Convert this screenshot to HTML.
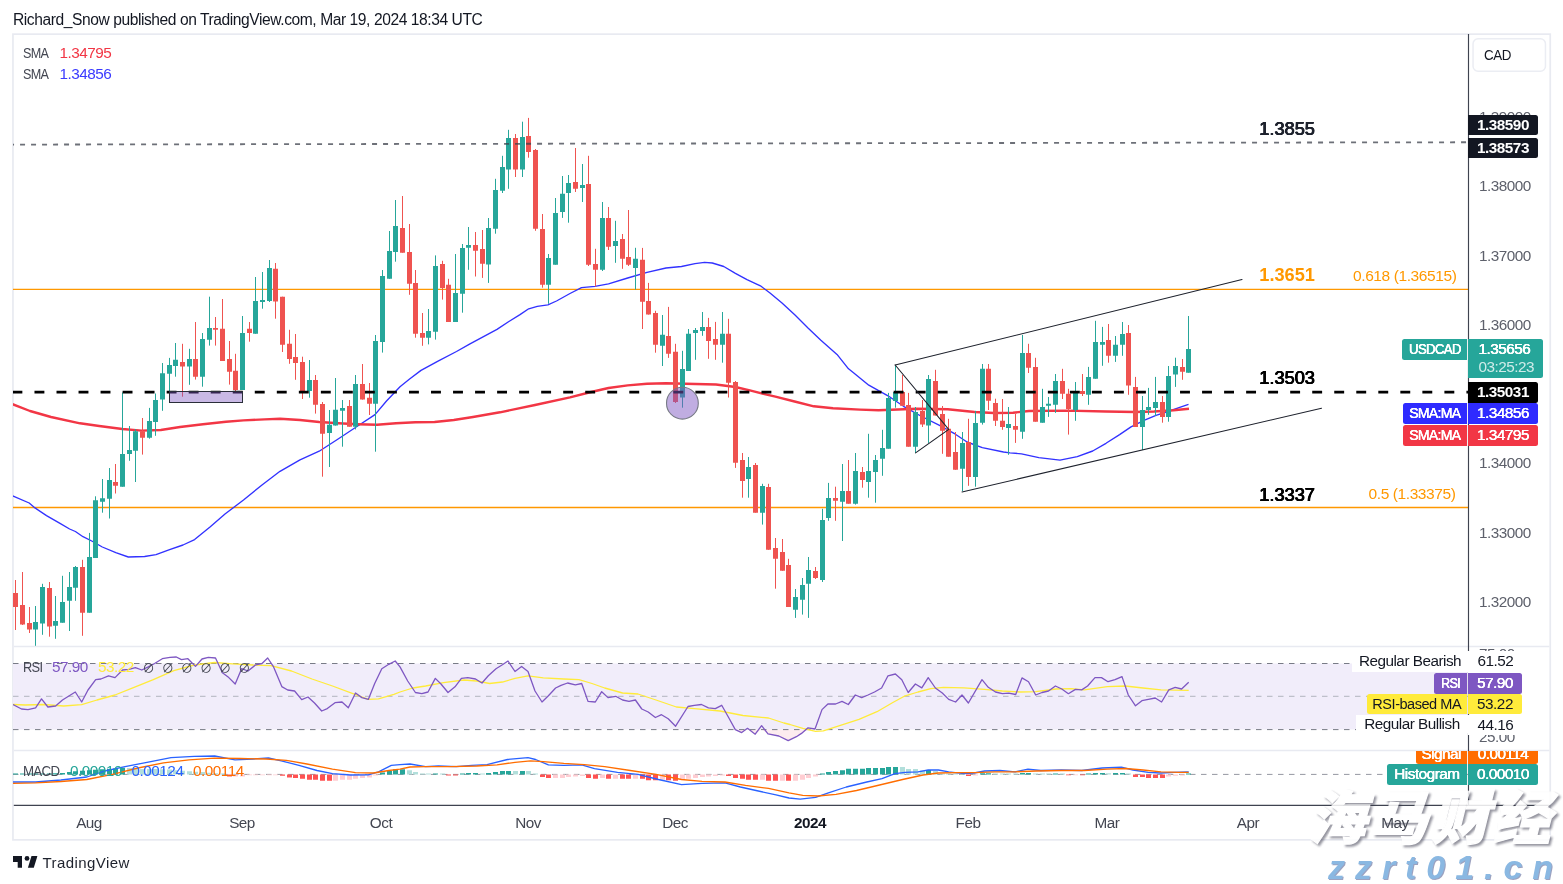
<!DOCTYPE html>
<html><head><meta charset="utf-8"><title>USDCAD chart</title>
<style>
html,body{margin:0;padding:0;background:#fff;}
body{width:1563px;height:884px;position:relative;overflow:hidden;font-family:"Liberation Sans","Noto Sans CJK SC",sans-serif;color:#131722;}
.abs{position:absolute;white-space:nowrap;}
#hdr{left:13px;top:10.6px;font-size:15.6px;line-height:18px;color:#131722;letter-spacing:-0.43px}
.pl{left:1479px;letter-spacing:-0.5px;font-size:15.3px;line-height:16px;color:#5d606b;}
.tl{top:814.6px;letter-spacing:-0.5px;font-size:15.3px;line-height:16px;color:#434651;transform:translateX(-50%);}
.lbl{text-shadow:0.22px 0 0 #fff,-0.22px 0 0 #fff;height:20.4px;line-height:20.4px;letter-spacing:-0.5px;font-size:15.3px;color:#fff;border-radius:2.5px;box-sizing:border-box;text-align:center;}
.lt{border-radius:2.5px 0 0 2.5px;}
.lv{border-radius:0 2.5px 2.5px 0;}
.big{font-size:18.2px;font-weight:bold;line-height:20px;left:1259.3px;letter-spacing:0px;}
.leg{letter-spacing:-0.5px;font-size:15.3px;line-height:16px;color:#434651;}
#cad{left:1484.4px;top:47.1px;letter-spacing:-0.5px;font-size:15.3px;line-height:16px;color:#131722;transform:scaleX(0.875);transform-origin:left;}
#wm1{left:1308px;top:774px;font-size:58px;line-height:80px;font-weight:900;font-style:italic;color:#fff;-webkit-text-stroke:1.2px #fff;filter:drop-shadow(2px 2px 0.9px rgba(50,50,70,0.6));opacity:0.86;font-family:"Noto Sans CJK SC","Liberation Sans",sans-serif;letter-spacing:3.5px;}
#wm2{left:1328px;top:846.8px;font-size:34px;line-height:40px;font-weight:bold;font-style:italic;color:#8ab8e2;letter-spacing:9.95px;text-shadow:1px 1px 0.5px rgba(90,100,150,0.6);}
</style></head><body>
<div id="hdr" class="abs">Richard_Snow published on TradingView.com, Mar 19, 2024 18:34 UTC</div>
<svg class="abs" style="left:0;top:0" width="1563" height="884" viewBox="0 0 1563 884">
<rect x="12.95" y="34.15" width="1537.3" height="805.7" fill="none" stroke="#e8eaf1" stroke-width="1.7"/>
<rect x="1473.05" y="38.75" width="72.4" height="32.4" rx="5" fill="#fff" stroke="#ebedf3" stroke-width="1.5"/>
<line x1="13.8" y1="646.4" x2="1549.4" y2="646.4" stroke="#e8eaf1" stroke-width="1.5"/>
<line x1="13.8" y1="750.4" x2="1549.4" y2="750.4" stroke="#e8eaf1" stroke-width="1.5"/>
</svg>

<div class="abs pl" style="top:108.5px">1.39000</div>
<div class="abs pl" style="top:178.0px">1.38000</div>
<div class="abs pl" style="top:247.5px">1.37000</div>
<div class="abs pl" style="top:317.0px">1.36000</div>
<div class="abs pl" style="top:455.0px">1.34000</div>
<div class="abs pl" style="top:525.0px">1.33000</div>
<div class="abs pl" style="top:594.0px">1.32000</div>
<div class="abs pl" style="top:646.3px">75.00</div>
<div class="abs pl" style="top:728.9px;">25.00</div>

<svg class="abs" style="left:0;top:0" width="1563" height="884" viewBox="0 0 1563 884">
<defs><clipPath id="cp"><rect x="13" y="34" width="1455" height="771"/></clipPath></defs>
<g clip-path="url(#cp)">
<rect x="13" y="663.5" width="1455" height="66" fill="#f1edfa"/>
<polygon points="735.3,729.6 741.7,732.6 747.5,729.6 755.2,734.2 761.6,729.6 768.0,733.9 778.8,736.0 788.2,740.6 796.4,736.7 801.5,733.4 808.0,729.6 810.0,729.6" fill="#fdecef"/>
<line x1="13" y1="663.5" x2="1350" y2="663.5" stroke="#787b86" stroke-width="1" stroke-dasharray="5.5 5.5"/>
<line x1="13" y1="696.3" x2="1468" y2="696.3" stroke="#b2b5be" stroke-width="1" stroke-dasharray="5.5 5.5"/>
<line x1="13" y1="729.6" x2="1468" y2="729.6" stroke="#787b86" stroke-width="1" stroke-dasharray="5.5 5.5"/>
<line x1="13" y1="774.4" x2="1468" y2="774.4" stroke="#9598a1" stroke-width="1" stroke-dasharray="5.5 5.5"/>
<line x1="13" y1="289.4" x2="1468" y2="289.4" stroke="#ff9800" stroke-width="1.3"/>
<line x1="13" y1="507.5" x2="1468" y2="507.5" stroke="#ff9800" stroke-width="1.3"/>
<polyline points="12.0,495.5 13.8,496.3 29.2,503.0 35.0,507.9 46.5,515.6 60.0,523.3 69.6,529.0 75.4,531.5 83.0,536.7 92.7,541.5 102.3,547.0 115.8,552.7 128.3,557.0 144.6,556.5 156.0,554.6 169.6,549.6 183.0,545.0 194.6,539.6 210.0,527.0 225.0,514.0 243.5,500.0 262.0,485.0 280.0,471.3 300.0,459.8 319.2,451.2 338.5,438.7 357.7,426.0 375.0,414.6 386.5,401.0 400.0,386.7 409.6,379.0 421.0,370.4 438.5,360.8 456.5,351.5 470.0,343.8 497.0,329.4 508.5,321.7 520.0,314.6 528.7,308.8 537.3,306.3 547.9,304.8 556.5,301.0 570.0,293.5 581.5,287.7 595.0,286.3 608.5,283.8 627.7,278.0 647.0,272.3 666.0,268.0 681.5,266.5 695.0,263.7 704.6,262.3 712.3,263.0 723.8,266.5 735.4,273.3 747.0,279.6 760.4,285.8 770.0,293.0 782.0,303.0 795.0,315.0 808.0,328.0 820.6,340.0 837.0,354.4 848.5,368.8 853.5,372.7 868.8,385.2 888.0,395.8 903.5,406.3 920.8,416.0 940.0,425.6 955.4,434.2 967.0,442.0 982.3,447.7 1003.5,452.0 1010.0,452.9 1021.5,453.8 1038.8,457.7 1060.0,460.2 1077.3,456.7 1092.7,451.0 1106.0,443.3 1119.6,434.6 1131.0,426.9 1144.6,420.2 1156.0,415.4 1169.6,411.0 1179.0,407.7 1188.5,404.4" fill="none" stroke="#3232ff" stroke-width="1.35" stroke-linejoin="round"/>
<polyline points="12.0,404.0 30.0,411.0 51.0,417.0 80.0,423.3 99.2,426.0 122.3,429.0 141.5,430.6 160.8,430.0 180.0,427.0 203.0,424.2 226.0,421.7 243.5,420.4 264.6,419.4 280.0,418.8 300.0,420.0 319.2,422.0 338.5,423.3 357.7,424.2 377.0,424.8 396.0,423.3 415.4,422.3 434.6,422.0 453.8,420.0 473.0,417.0 500.0,412.3 535.0,405.0 570.0,397.3 589.0,392.5 608.5,388.0 627.7,385.4 647.0,383.8 666.0,383.3 685.4,383.8 716.0,384.5 735.4,387.0 750.8,390.6 770.0,395.4 775.4,396.7 794.6,401.5 813.8,406.3 833.0,408.3 860.0,409.6 878.5,410.2 917.0,408.8 947.7,409.2 974.6,412.0 993.8,413.0 1013.0,412.7 1029.0,411.0 1067.7,410.6 1106.0,411.5 1135.0,412.0 1154.0,411.5 1173.5,410.2 1189.0,408.7" fill="none" stroke="#f23645" stroke-width="2.4" stroke-linejoin="round"/>
<path d="M35.5 606.0V645.8M42.5 583.8V634.8M55.5 596.0V638.8M62.5 575.8V622.7M69.5 572.0V631.0M75.5 566.0V600.8M89.5 532.9V612.7M95.5 496.3V557.9M102.5 479.0V512.7M109.5 468.0V518.5M122.5 392.5V486.7M129.5 426.0V460.8M135.5 429.0V482.0M149.5 407.9V438.7M155.5 393.5V435.8M162.5 363.0V410.8M169.5 357.9V391.5M175.5 343.0V376.7M189.5 348.8V384.8M202.5 333.0V386.7M209.5 296.7V345.6M242.5 316.0V390.0M255.5 277.0V333.8M262.5 272.0V308.7M269.5 260.0V302.0M309.5 360.0V397.7M329.5 410.0V467.0M335.5 378.0V425.6M342.5 400.0V446.7M355.5 375.0V429.4M375.5 335.0V451.7M382.5 270.0V352.6M389.5 231.0V278.8M395.5 200.0V261.7M428.5 309.0V344.4M435.5 255.4V339.6M455.5 254.0V322.0M462.5 244.0V312.7M468.5 227.0V269.8M488.5 218.0V282.9M495.5 178.8V233.7M502.5 155.8V193.0M508.5 129.8V188.8M522.5 121.7V177.0M548.5 254.0V303.8M555.5 198.0V264.7M562.5 176.0V217.9M568.5 175.0V222.7M582.5 164.0V202.0M602.5 202.0V271.0M615.5 220.8V262.8M635.5 247.8V289.6M662.5 315.0V366.0M682.5 350.8V407.7M688.5 329.0V371.0M695.5 328.0V359.8M702.5 312.0V335.8M722.5 312.0V362.7M748.5 457.0V497.7M762.5 483.8V524.6M795.5 589.0V617.9M802.5 578.0V614.6M808.5 557.0V617.9M822.5 508.8V582.0M828.5 482.9V520.8M842.5 464.0V541.0M855.5 453.0V504.6M868.5 433.8V497.7M875.5 455.0V502.7M882.5 429.8V475.8M888.5 392.9V448.7M895.5 366.0V407.7M915.5 407.0V452.9M928.5 375.0V442.9M962.5 432.0V491.0M975.5 410.8V486.7M982.5 364.0V424.6M1008.5 407.0V454.8M1022.5 335.0V438.8M1042.5 388.8V422.7M1048.5 397.0V416.9M1055.5 374.0V412.9M1075.5 382.0V420.8M1088.5 366.9V404.8M1095.5 320.8V378.8M1102.5 326.9V365.8M1115.5 336.0V361.9M1122.5 322.0V355.8M1142.5 396.0V450.0M1148.5 387.9V414.8M1155.5 376.9V416.0M1168.5 366.0V421.7M1175.5 357.7V386.9M1188.5 316.0V372.7" stroke="#26a69a" stroke-width="1" fill="none"/>
<path d="M33.0 622.0h5V629.6h-5zM40.0 587.0h5V623.6h-5zM53.0 621.0h5V625.8h-5zM60.0 602.0h5V622.7h-5zM67.0 587.0h5V600.8h-5zM73.0 567.0h5V587.7h-5zM87.0 557.0h5V612.7h-5zM93.0 500.2h5V557.9h-5zM100.0 498.3h5V501.7h-5zM107.0 480.0h5V498.7h-5zM120.0 454.0h5V486.7h-5zM127.0 450.0h5V454.0h-5zM133.0 431.3h5V450.8h-5zM147.0 421.0h5V437.7h-5zM153.0 400.0h5V422.0h-5zM160.0 373.3h5V399.6h-5zM167.0 365.0h5V373.8h-5zM173.0 359.8h5V366.0h-5zM187.0 359.0h5V366.5h-5zM200.0 339.0h5V376.7h-5zM207.0 327.9h5V339.8h-5zM240.0 333.0h5V390.0h-5zM253.0 301.0h5V333.8h-5zM260.0 300.0h5V302.0h-5zM267.0 267.9h5V301.0h-5zM307.0 380.0h5V391.0h-5zM327.0 424.8h5V432.9h-5zM333.0 409.8h5V425.6h-5zM340.0 407.9h5V410.8h-5zM353.0 384.0h5V426.7h-5zM373.0 341.0h5V403.7h-5zM380.0 276.0h5V342.0h-5zM387.0 251.0h5V278.8h-5zM393.0 226.0h5V252.0h-5zM426.0 331.0h5V337.7h-5zM433.0 266.0h5V331.7h-5zM453.0 292.9h5V322.0h-5zM460.0 248.0h5V293.8h-5zM466.0 245.0h5V247.7h-5zM486.0 228.0h5V264.6h-5zM493.0 190.0h5V228.8h-5zM500.0 167.0h5V190.8h-5zM506.0 138.0h5V169.6h-5zM520.0 137.0h5V169.6h-5zM546.0 257.9h5V284.8h-5zM553.0 213.0h5V264.7h-5zM560.0 193.8h5V212.0h-5zM566.0 183.0h5V192.9h-5zM580.0 185.0h5V187.9h-5zM600.0 217.9h5V269.8h-5zM613.0 241.0h5V246.0h-5zM633.0 258.8h5V267.9h-5zM660.0 334.8h5V345.8h-5zM680.0 369.0h5V397.6h-5zM686.0 333.8h5V371.0h-5zM693.0 330.0h5V332.9h-5zM700.0 327.0h5V331.0h-5zM720.0 333.8h5V344.8h-5zM746.0 467.0h5V479.0h-5zM760.0 486.0h5V512.7h-5zM793.0 597.0h5V609.8h-5zM800.0 585.0h5V599.8h-5zM806.0 570.0h5V583.8h-5zM820.0 520.0h5V580.0h-5zM826.0 497.9h5V517.9h-5zM840.0 491.0h5V501.7h-5zM853.0 471.0h5V503.7h-5zM866.0 471.0h5V482.0h-5zM873.0 460.0h5V472.0h-5zM880.0 448.0h5V458.8h-5zM886.0 398.0h5V448.7h-5zM893.0 392.0h5V401.0h-5zM913.0 412.0h5V446.7h-5zM926.0 379.0h5V425.6h-5zM960.0 442.9h5V468.8h-5zM973.0 423.0h5V477.0h-5zM980.0 368.8h5V422.7h-5zM1006.0 424.0h5V427.9h-5zM1020.0 352.9h5V431.7h-5zM1040.0 407.0h5V422.7h-5zM1046.0 403.8h5V405.8h-5zM1053.0 381.0h5V404.8h-5zM1073.0 391.9h5V410.0h-5zM1086.0 376.9h5V394.8h-5zM1093.0 341.9h5V378.8h-5zM1100.0 341.9h5V344.8h-5zM1113.0 344.8h5V355.8h-5zM1120.0 334.0h5V344.8h-5zM1140.0 410.0h5V426.9h-5zM1146.0 407.0h5V410.0h-5zM1153.0 401.9h5V408.0h-5zM1166.0 376.0h5V416.9h-5zM1173.0 366.0h5V374.6h-5zM1186.0 349.0h5V372.7h-5z" fill="#26a69a"/>
<path d="M15.5 580.0V630.0M22.5 572.0V625.0M29.5 607.0V633.0M49.5 582.0V636.7M82.5 559.8V635.8M115.5 464.0V493.5M142.5 418.0V454.6M182.5 343.8V396.7M195.5 322.0V379.6M215.5 317.0V345.6M222.5 299.0V361.0M229.5 341.0V384.6M235.5 353.8V391.3M249.5 322.0V341.7M275.5 263.0V318.7M282.5 296.7V352.0M289.5 329.8V363.8M295.5 334.0V379.8M302.5 356.7V399.0M315.5 375.0V413.6M322.5 402.0V476.7M349.5 400.0V426.7M362.5 364.0V399.6M369.5 383.0V415.0M402.5 196.0V252.7M409.5 224.0V294.8M415.5 270.0V337.7M422.5 313.0V345.8M442.5 260.8V299.6M448.5 278.8V322.0M475.5 232.0V276.5M482.5 230.0V277.9M515.5 134.0V177.0M528.5 117.9V157.7M535.5 149.0V230.8M542.5 214.0V287.7M575.5 148.0V192.0M588.5 155.8V266.0M595.5 248.8V286.7M608.5 207.0V250.0M622.5 234.0V268.8M628.5 210.0V266.0M642.5 247.9V329.0M648.5 282.9V314.6M655.5 310.8V352.7M668.5 306.9V357.9M675.5 343.8V403.0M708.5 317.9V358.8M715.5 321.9V359.8M728.5 318.8V397.5M735.5 381.0V467.9M742.5 453.0V497.7M755.5 463.0V512.7M768.5 483.8V549.8M775.5 538.0V588.7M782.5 539.0V570.8M788.5 558.8V607.0M815.5 567.0V579.0M835.5 486.7V520.8M848.5 460.0V503.7M862.5 467.0V487.7M902.5 375.0V405.8M908.5 392.9V446.7M922.5 400.0V427.0M935.5 369.8V415.6M942.5 406.0V453.8M948.5 418.8V456.7M955.5 432.0V469.8M968.5 418.8V485.8M988.5 364.0V410.0M995.5 398.7V426.0M1002.5 399.0V429.8M1015.5 414.0V442.9M1028.5 343.8V373.0M1035.5 357.8V421.7M1062.5 368.8V399.0M1068.5 388.8V434.6M1082.5 374.0V396.0M1108.5 324.0V362.7M1128.5 325.0V394.8M1135.5 376.9V426.9M1162.5 396.0V422.7M1182.5 359.0V379.8" stroke="#ef5350" stroke-width="1" fill="none"/>
<path d="M13.0 593.0h5V607.0h-5zM20.0 605.0h5V624.6h-5zM27.0 623.0h5V629.6h-5zM47.0 588.0h5V626.5h-5zM80.0 567.0h5V612.7h-5zM113.0 482.0h5V485.8h-5zM140.0 431.3h5V437.7h-5zM180.0 362.0h5V366.5h-5zM193.0 359.0h5V376.7h-5zM213.0 327.9h5V329.8h-5zM220.0 328.8h5V361.0h-5zM227.0 359.0h5V371.7h-5zM233.0 370.8h5V390.0h-5zM247.0 328.8h5V333.0h-5zM273.0 268.8h5V301.5h-5zM280.0 296.7h5V344.8h-5zM287.0 343.8h5V359.0h-5zM293.0 357.0h5V362.9h-5zM300.0 362.0h5V392.0h-5zM313.0 380.0h5V404.7h-5zM320.0 404.0h5V433.8h-5zM347.0 406.0h5V426.7h-5zM360.0 384.0h5V399.6h-5zM367.0 397.7h5V403.7h-5zM400.0 228.0h5V252.7h-5zM407.0 252.0h5V283.8h-5zM413.0 282.9h5V333.7h-5zM420.0 332.9h5V337.7h-5zM440.0 264.0h5V288.0h-5zM446.0 284.8h5V322.0h-5zM473.0 245.0h5V250.8h-5zM480.0 249.0h5V263.7h-5zM513.0 138.0h5V169.6h-5zM526.0 136.0h5V152.0h-5zM533.0 150.0h5V228.8h-5zM540.0 229.0h5V284.8h-5zM573.0 182.0h5V188.8h-5zM586.0 184.0h5V264.7h-5zM593.0 264.0h5V269.8h-5zM606.0 217.9h5V246.8h-5zM620.0 239.0h5V258.7h-5zM626.0 257.0h5V264.7h-5zM640.0 259.8h5V301.7h-5zM646.0 301.0h5V314.6h-5zM653.0 313.0h5V344.8h-5zM666.0 336.0h5V353.7h-5zM673.0 351.8h5V402.0h-5zM706.0 327.0h5V341.0h-5zM713.0 339.0h5V344.8h-5zM726.0 333.8h5V382.8h-5zM733.0 382.0h5V462.7h-5zM740.0 460.0h5V481.0h-5zM753.0 465.0h5V512.7h-5zM766.0 487.0h5V549.8h-5zM773.0 547.9h5V558.8h-5zM780.0 552.0h5V570.8h-5zM786.0 565.0h5V607.0h-5zM813.0 571.0h5V578.0h-5zM833.0 497.9h5V500.8h-5zM846.0 491.0h5V503.7h-5zM860.0 472.0h5V480.0h-5zM900.0 392.0h5V405.8h-5zM906.0 405.0h5V446.7h-5zM920.0 411.0h5V424.6h-5zM933.0 381.0h5V415.6h-5zM940.0 414.0h5V430.8h-5zM946.0 428.8h5V456.7h-5zM953.0 452.0h5V469.8h-5zM966.0 442.0h5V477.0h-5zM986.0 368.8h5V400.8h-5zM993.0 403.0h5V420.8h-5zM1000.0 420.8h5V427.0h-5zM1013.0 426.0h5V429.8h-5zM1026.0 352.9h5V367.8h-5zM1033.0 367.0h5V421.7h-5zM1060.0 381.0h5V393.8h-5zM1066.0 393.8h5V409.0h-5zM1080.0 391.0h5V394.0h-5zM1106.0 340.0h5V355.8h-5zM1126.0 333.0h5V385.6h-5zM1133.0 386.9h5V426.9h-5zM1160.0 401.9h5V416.9h-5zM1180.0 366.9h5V371.7h-5z" fill="#ef5350"/>
<line x1="9.05" y1="144.6" x2="1468" y2="142.25" stroke="#3c404b" stroke-opacity="0.75" stroke-width="1.8" stroke-dasharray="5 6"/>
<line x1="12.45" y1="392.05" x2="1468" y2="392.05" stroke="#000" stroke-width="2.7" stroke-dasharray="9.9 12.13"/>
<rect x="169.5" y="391.5" width="73" height="11" fill="rgba(126,87,194,0.42)" stroke="#2a2e39" stroke-width="1"/>
<circle cx="682.4" cy="403.2" r="15.9" fill="rgba(126,87,194,0.49)" stroke="#787b86" stroke-width="1.1"/>
<g stroke="#1e222d" stroke-width="1.1" fill="none" stroke-linecap="round">
<line x1="895.2" y1="365" x2="1242" y2="279.5"/>
<line x1="962" y1="492" x2="1321.5" y2="408.2"/>
<polyline points="895.2,365 948.7,429.4 915.6,452.9"/>
</g>
<polyline points="13.0,704.5 25.4,705.0 43.3,704.5 63.7,706.0 81.7,704.7 97.0,700.0 115.0,695.0 132.8,687.9 153.3,679.7 173.8,670.7 194.3,665.0 214.7,662.5 232.6,663.8 253.0,665.0 271.0,665.6 291.5,671.0 312.0,679.0 332.5,686.0 352.9,693.7 368.3,699.4 378.5,698.9 393.9,694.3 400.0,692.0 412.8,688.0 425.6,686.0 443.5,682.7 464.0,680.0 476.8,681.0 489.6,683.5 502.4,682.0 515.0,678.4 528.0,675.8 543.3,677.9 563.8,679.0 579.0,679.7 592.0,683.5 604.7,688.0 622.6,693.0 638.0,694.0 656.0,700.0 676.4,707.0 694.3,708.6 720.0,711.0 743.0,715.5 768.5,718.0 783.9,723.0 790.0,724.5 802.8,728.3 815.6,731.4 823.3,730.8 841.2,725.2 859.0,719.3 877.0,711.7 892.4,702.7 905.2,695.8 918.0,692.0 930.8,688.6 943.6,687.3 964.0,687.9 984.5,689.4 1002.4,691.0 1020.3,692.0 1035.7,691.7 1056.0,689.0 1071.5,688.6 1084.3,689.9 1107.3,686.6 1125.3,686.0 1143.0,688.0 1161.0,689.9 1188.7,690.4" fill="none" stroke="#ffeb3b" stroke-width="1.3" stroke-linejoin="round"/>
<polyline points="13.0,704.5 21.5,709.0 28.0,709.6 35.6,707.8 41.5,698.9 47.9,707.0 55.6,706.0 62.5,700.0 75.3,692.0 81.7,702.0 88.0,690.0 95.7,679.7 100.9,679.0 108.5,675.8 115.0,677.6 122.6,670.0 129.0,669.4 135.4,667.6 141.8,670.0 148.2,666.9 154.6,663.5 162.3,658.7 170.0,657.4 176.3,657.0 181.5,659.7 187.9,658.7 195.5,666.4 202.0,659.0 208.3,657.4 215.5,658.0 222.4,672.8 228.8,677.6 235.2,684.0 241.6,668.7 248.0,671.0 255.7,664.8 262.0,663.5 267.7,658.0 273.6,666.9 281.8,686.6 287.7,690.0 294.6,691.0 301.7,699.6 308.0,697.0 314.5,703.0 321.7,711.0 327.3,708.6 335.0,702.7 342.0,702.0 348.3,707.8 355.5,693.0 361.9,697.6 368.3,699.4 374.7,683.5 381.8,668.7 388.8,664.3 395.2,661.0 400.0,666.9 407.7,681.0 415.4,692.5 421.8,693.7 428.0,692.0 435.3,678.4 441.0,684.0 448.0,692.5 455.0,686.8 461.4,678.4 467.8,677.6 475.5,679.0 482.0,683.0 488.3,675.8 496.0,668.7 502.4,664.8 508.0,661.0 515.0,671.5 521.6,666.4 528.0,671.5 535.0,691.0 542.0,702.0 548.4,695.8 555.6,688.0 561.0,685.3 567.6,683.0 575.3,684.8 581.7,683.5 588.0,701.4 595.3,702.0 601.7,691.7 608.0,697.6 615.7,696.3 622.6,700.0 629.0,701.4 635.4,700.0 641.8,709.0 648.2,712.0 655.4,717.5 661.5,714.7 668.2,718.8 675.6,726.2 688.0,706.5 694.3,705.3 701.5,704.5 708.4,707.8 715.3,708.6 721.7,705.3 728.9,718.0 735.3,729.6 741.7,732.6 747.5,728.3 755.2,734.2 761.6,725.7 768.0,733.9 778.8,736.0 788.2,740.6 796.4,736.7 801.5,733.4 808.0,727.8 815.0,729.0 822.0,709.6 827.9,704.0 835.6,704.0 842.0,701.4 848.3,704.5 855.3,695.0 861.7,697.6 868.0,695.0 874.5,692.0 881.6,688.0 888.0,675.8 895.4,674.0 901.8,679.7 908.2,692.5 915.4,684.0 921.8,687.9 928.2,677.6 935.4,688.0 942.3,693.0 948.7,699.4 955.6,702.0 962.0,695.0 968.4,703.0 982.0,679.7 988.3,687.3 995.5,692.0 1002.4,693.7 1008.8,693.2 1015.7,694.5 1022.0,677.9 1028.5,681.7 1035.7,695.0 1042.0,692.5 1048.5,691.0 1055.4,686.0 1061.8,689.0 1068.4,693.7 1075.4,689.4 1081.7,689.9 1087.6,686.0 1095.0,677.6 1101.5,677.6 1108.0,681.7 1115.0,679.7 1122.0,676.6 1128.3,695.0 1135.5,705.8 1141.9,700.7 1148.3,699.4 1155.2,698.0 1161.6,702.0 1168.8,689.9 1175.2,687.3 1181.6,689.0 1188.7,682.2" fill="none" stroke="#7e57c2" stroke-width="1.3" stroke-linejoin="round"/>
<path d="M13.0 773.6h5v0.8h-5zM20.0 773.6h5v0.8h-5zM27.0 773.6h5v0.8h-5zM33.0 773.6h5v0.8h-5zM40.0 773.6h5v0.8h-5zM47.0 773.6h5v0.8h-5zM53.0 773.3h5v1.1h-5zM60.0 772.9h5v1.5h-5zM67.0 772.0h5v2.4h-5zM73.0 771.2h5v3.2h-5zM80.0 770.8h5v3.6h-5zM87.0 770.3h5v4.1h-5zM93.0 769.7h5v4.7h-5zM100.0 769.3h5v5.1h-5zM107.0 768.9h5v5.5h-5zM113.0 768.4h5v6.0h-5zM120.0 767.8h5v6.6h-5zM380.0 772.4h5v2.0h-5zM387.0 771.1h5v3.3h-5zM393.0 769.2h5v5.2h-5zM400.0 769.2h5v5.2h-5zM433.0 773.6h5v0.8h-5zM460.0 773.6h5v0.8h-5zM466.0 773.1h5v1.3h-5zM473.0 773.1h5v1.3h-5zM486.0 773.1h5v1.3h-5zM493.0 772.1h5v2.3h-5zM500.0 771.1h5v3.3h-5zM506.0 771.1h5v3.3h-5zM520.0 771.1h5v3.3h-5zM820.0 773.6h5v0.8h-5zM826.0 772.1h5v2.3h-5zM833.0 771.1h5v3.3h-5zM840.0 770.2h5v4.2h-5zM846.0 768.8h5v5.6h-5zM853.0 768.8h5v5.6h-5zM860.0 768.8h5v5.6h-5zM866.0 767.9h5v6.5h-5zM873.0 767.9h5v6.5h-5zM880.0 768.0h5v6.4h-5zM886.0 767.0h5v7.4h-5zM893.0 767.0h5v7.4h-5zM926.0 770.1h5v4.3h-5zM980.0 773.2h5v1.2h-5zM986.0 773.2h5v1.2h-5zM1020.0 773.0h5v1.4h-5zM1026.0 773.0h5v1.4h-5zM1053.0 773.6h5v0.8h-5zM1086.0 773.6h5v0.8h-5zM1093.0 773.0h5v1.4h-5zM1100.0 773.0h5v1.4h-5zM1113.0 773.0h5v1.4h-5zM1120.0 773.0h5v1.4h-5zM1186.0 773.6h5v0.8h-5z" fill="#26a69a"/>
<path d="M127.0 768.1h5v6.3h-5zM133.0 768.5h5v5.9h-5zM140.0 768.9h5v5.5h-5zM147.0 769.0h5v5.4h-5zM153.0 769.1h5v5.3h-5zM160.0 769.2h5v5.2h-5zM167.0 769.6h5v4.8h-5zM173.0 770.2h5v4.2h-5zM180.0 770.7h5v3.7h-5zM187.0 771.2h5v3.2h-5zM193.0 771.7h5v2.7h-5zM200.0 772.1h5v2.3h-5zM207.0 772.7h5v1.7h-5zM213.0 773.3h5v1.1h-5zM220.0 773.6h5v0.8h-5zM407.0 770.2h5v4.2h-5zM413.0 772.1h5v2.3h-5zM420.0 773.4h5v1.0h-5zM426.0 773.6h5v0.8h-5zM440.0 773.6h5v0.8h-5zM480.0 773.4h5v1.0h-5zM513.0 771.1h5v3.3h-5zM526.0 771.1h5v3.3h-5zM533.0 773.4h5v1.0h-5zM900.0 767.0h5v7.4h-5zM906.0 769.1h5v5.3h-5zM913.0 769.1h5v5.3h-5zM920.0 770.5h5v3.9h-5zM933.0 771.1h5v3.3h-5zM940.0 773.6h5v0.8h-5zM946.0 773.6h5v0.8h-5zM953.0 773.6h5v0.8h-5zM960.0 773.6h5v0.8h-5zM993.0 773.6h5v0.8h-5zM1000.0 773.6h5v0.8h-5zM1006.0 773.6h5v0.8h-5zM1013.0 773.6h5v0.8h-5zM1033.0 773.4h5v1.0h-5zM1040.0 773.6h5v0.8h-5zM1046.0 773.6h5v0.8h-5zM1060.0 773.6h5v0.8h-5zM1106.0 773.2h5v1.2h-5zM1126.0 773.6h5v0.8h-5z" fill="#b2dfdb"/>
<path d="M233.0 774.4h5v2.1h-5zM240.0 774.4h5v2.0h-5zM247.0 774.4h5v0.9h-5zM253.0 774.4h5v0.8h-5zM260.0 774.4h5v0.8h-5zM267.0 774.4h5v0.8h-5zM273.0 774.4h5v0.8h-5zM333.0 774.4h5v6.3h-5zM340.0 774.4h5v5.4h-5zM347.0 774.4h5v5.4h-5zM353.0 774.4h5v4.4h-5zM360.0 774.4h5v3.5h-5zM367.0 774.4h5v3.0h-5zM373.0 774.4h5v1.0h-5zM553.0 774.4h5v3.5h-5zM560.0 774.4h5v3.5h-5zM566.0 774.4h5v2.5h-5zM573.0 774.4h5v2.1h-5zM580.0 774.4h5v1.5h-5zM600.0 774.4h5v3.5h-5zM613.0 774.4h5v4.4h-5zM633.0 774.4h5v4.4h-5zM660.0 774.4h5v5.4h-5zM680.0 774.4h5v5.4h-5zM686.0 774.4h5v4.4h-5zM693.0 774.4h5v3.5h-5zM700.0 774.4h5v2.5h-5zM706.0 774.4h5v2.1h-5zM713.0 774.4h5v1.5h-5zM720.0 774.4h5v1.2h-5zM760.0 774.4h5v5.4h-5zM780.0 774.4h5v6.3h-5zM793.0 774.4h5v6.3h-5zM800.0 774.4h5v5.4h-5zM806.0 774.4h5v3.5h-5zM813.0 774.4h5v2.1h-5zM973.0 774.4h5v1.2h-5zM1073.0 774.4h5v0.8h-5zM1166.0 774.4h5v2.2h-5zM1173.0 774.4h5v1.4h-5zM1180.0 774.4h5v1.0h-5z" fill="#ffcdd2"/>
<path d="M227.0 774.4h5v2.1h-5zM280.0 774.4h5v1.4h-5zM287.0 774.4h5v3.0h-5zM293.0 774.4h5v3.6h-5zM300.0 774.4h5v4.4h-5zM307.0 774.4h5v5.4h-5zM313.0 774.4h5v5.4h-5zM320.0 774.4h5v6.3h-5zM327.0 774.4h5v6.3h-5zM446.0 774.4h5v1.2h-5zM453.0 774.4h5v1.2h-5zM540.0 774.4h5v2.5h-5zM546.0 774.4h5v3.5h-5zM586.0 774.4h5v3.5h-5zM593.0 774.4h5v4.4h-5zM606.0 774.4h5v4.4h-5zM620.0 774.4h5v4.4h-5zM626.0 774.4h5v4.4h-5zM640.0 774.4h5v4.4h-5zM646.0 774.4h5v5.8h-5zM653.0 774.4h5v5.8h-5zM666.0 774.4h5v5.8h-5zM673.0 774.4h5v6.3h-5zM726.0 774.4h5v1.5h-5zM733.0 774.4h5v3.5h-5zM740.0 774.4h5v4.4h-5zM746.0 774.4h5v5.4h-5zM753.0 774.4h5v5.4h-5zM766.0 774.4h5v6.3h-5zM773.0 774.4h5v6.3h-5zM786.0 774.4h5v6.3h-5zM966.0 774.4h5v1.6h-5zM1066.0 774.4h5v0.8h-5zM1080.0 774.4h5v0.8h-5zM1133.0 774.4h5v2.7h-5zM1140.0 774.4h5v2.7h-5zM1146.0 774.4h5v3.7h-5zM1153.0 774.4h5v3.7h-5zM1160.0 774.4h5v3.7h-5z" fill="#ff5252"/>
<polyline points="13.0,782.0 35.6,782.0 61.0,780.0 86.8,777.0 104.7,771.0 125.0,766.7 150.8,761.6 171.0,757.7 194.3,756.4 214.7,756.0 235.0,759.8 253.0,759.0 268.5,758.0 281.3,760.8 299.0,765.4 317.0,770.5 332.5,773.6 350.4,775.0 368.3,774.9 378.5,771.8 391.3,765.4 400.0,764.6 410.0,764.0 425.6,766.7 438.4,766.0 456.3,766.7 471.7,765.4 487.0,764.6 507.5,759.5 528.0,757.7 535.6,759.5 548.4,764.9 563.8,765.4 581.7,764.9 594.5,768.7 617.5,772.3 638.0,774.4 658.5,779.5 681.5,784.6 702.0,783.3 725.0,782.8 740.4,787.0 758.3,791.0 776.0,794.8 789.0,798.0 800.2,799.2 815.6,797.4 828.4,792.8 846.3,787.0 866.8,782.0 882.0,778.7 895.0,773.6 905.2,772.3 918.0,771.8 928.2,770.0 938.4,770.0 948.7,771.8 964.0,773.6 974.3,773.0 984.5,771.0 999.9,770.5 1015.2,771.8 1028.0,769.2 1040.8,770.5 1061.3,770.0 1081.7,770.5 1102.2,768.0 1121.4,767.2 1133.0,770.0 1148.3,772.3 1161.0,773.0 1173.9,772.3 1188.7,771.8" fill="none" stroke="#2962ff" stroke-width="1.3" stroke-linejoin="round"/>
<polyline points="13.0,783.3 35.6,782.8 61.0,781.5 86.8,779.5 112.4,774.4 138.0,768.0 163.5,762.8 189.0,759.8 214.7,758.2 240.3,758.5 266.0,759.0 286.4,760.3 306.9,764.0 332.5,769.2 355.5,772.6 373.4,773.0 388.8,770.5 400.0,769.2 410.0,767.0 425.6,766.7 451.0,766.7 476.8,766.0 497.0,764.9 515.0,762.3 530.5,760.8 543.3,761.6 563.8,763.4 584.3,764.6 604.7,766.7 630.3,770.5 656.0,774.4 681.5,779.5 702.0,781.3 725.0,782.0 745.5,785.4 768.5,788.4 789.0,792.8 802.8,795.3 818.0,796.0 836.0,794.3 856.5,790.5 879.6,785.0 902.6,779.5 923.0,775.0 938.4,773.0 956.3,772.6 974.3,772.6 994.7,771.8 1015.2,771.8 1035.7,771.0 1061.3,770.5 1084.3,770.5 1107.3,769.2 1125.3,768.5 1143.0,770.0 1161.0,771.8 1179.0,772.3 1188.7,772.3" fill="none" stroke="#ff6d00" stroke-width="1.3" stroke-linejoin="round"/>
</g>
</svg>

<svg class="abs" style="left:0;top:0" width="1563" height="884" viewBox="0 0 1563 884">
<line x1="1468.5" y1="34" x2="1468.5" y2="806" stroke="#3f4350" stroke-width="1.15"/>
<line x1="13.8" y1="805.4" x2="1549.4" y2="805.4" stroke="#3f4350" stroke-width="1.15"/>
</svg>
<div id="cad" class="abs">CAD</div>

<div class="abs leg" style="left:23.3px;top:45.3px;letter-spacing:-0.8px;transform:scaleX(0.825);transform-origin:left">SMA</div><div class="abs leg" style="left:59.5px;top:45.3px;color:#f23645">1.34795</div>
<div class="abs leg" style="left:23.3px;top:65.9px;letter-spacing:-0.8px;transform:scaleX(0.825);transform-origin:left">SMA</div><div class="abs leg" style="left:59.5px;top:65.9px;color:#3a3aff">1.34856</div>

<div class="abs leg" style="left:22.8px;top:659px;letter-spacing:-0.8px;transform:scaleX(0.837);transform-origin:left">RSI</div>
<div class="abs leg" style="left:52px;top:659px;color:#7e57c2">57.90</div>
<div class="abs leg" style="left:98px;top:659px;color:#ffeb3b">53.22</div>
<div class="abs leg" style="left:142.5px;top:659px;color:#434651;letter-spacing:6.95px;font-size:12.2px;margin-top:1.7px">∅∅∅∅∅∅</div>
<div class="abs leg" style="left:22.8px;top:763px;letter-spacing:-0.8px;transform:scaleX(0.868);transform-origin:left">MACD</div>
<div class="abs leg" style="left:70px;top:763px;color:#26a69a">0.00010</div>
<div class="abs leg" style="left:131.6px;top:763px;color:#2962ff">0.00124</div>
<div class="abs leg" style="left:193px;top:763px;color:#ff6d00">0.00114</div>

<div class="abs big" style="top:118.65px;color:#1e222d;font-weight:normal;text-shadow:0.45px 0 0 #1e222d,-0.45px 0 0 #1e222d,0 0.3px 0 #1e222d,0 -0.3px 0 #1e222d">1.3855</div>
<div class="abs big" style="top:264.5px;color:#ff9800">1.3651</div>
<div class="abs big" style="top:367.5px;color:#000;font-weight:normal;text-shadow:0.45px 0 0 #000,-0.45px 0 0 #000,0 0.3px 0 #000,0 -0.3px 0 #000">1.3503</div>
<div class="abs big" style="top:484.5px;color:#000;font-weight:normal;text-shadow:0.45px 0 0 #000,-0.45px 0 0 #000,0 0.3px 0 #000,0 -0.3px 0 #000">1.3337</div>
<div class="abs" style="left:1353px;top:267.5px;font-size:15.5px;letter-spacing:-0.4px;line-height:16px;color:#ff9800">0.618 (1.36515)</div>
<div class="abs" style="left:1368.5px;top:486px;font-size:15.5px;letter-spacing:-0.4px;line-height:16px;color:#ff9800">0.5 (1.33375)</div>

<div class="abs lbl lv" style="left:1468px;top:115.2px;width:70px;height:20px;line-height:20px;background:#131722;color:#fff;font-weight:bold;text-shadow:none;">1.38590</div>
<div class="abs lbl lv" style="left:1468px;top:137.6px;width:70px;height:20px;line-height:20px;background:#131722;color:#fff;font-weight:bold;text-shadow:none;">1.38573</div>
<div class="abs lbl lt" style="left:1402.3px;top:339.4px;width:64.5px;height:20.5px;line-height:20.5px;background:#26a69a;color:#fff;letter-spacing:-0.8px;"><span style="display:inline-block;transform:scaleX(0.866)">USDCAD</span></div>
<div class="abs lbl lv" style="left:1468px;top:339.4px;width:75px;height:38.4px;background:#26a69a;line-height:18px;padding-top:1px;text-align:left;padding-left:10.5px">1.35656<br><span style="color:rgba(255,255,255,0.78);text-shadow:none">03:25:23</span></div>
<div class="abs lbl lv" style="left:1468px;top:382px;width:70px;height:20.8px;line-height:20.8px;background:#000;color:#fff;font-weight:bold;text-shadow:none;">1.35031</div>
<div class="abs lbl lt" style="left:1403px;top:402.8px;width:63.8px;height:20.9px;line-height:20.9px;background:#2f2bff;color:#fff;letter-spacing:-0.8px;"><span style="display:inline-block;transform:scaleX(0.92)">SMA:MA</span></div>
<div class="abs lbl lv" style="left:1468px;top:402.8px;width:70px;height:20.9px;line-height:20.9px;background:#2f2bff;color:#fff;">1.34856</div>
<div class="abs lbl lt" style="left:1403px;top:425.2px;width:63.8px;height:20.4px;line-height:20.4px;background:#f23645;color:#fff;letter-spacing:-0.8px;"><span style="display:inline-block;transform:scaleX(0.92)">SMA:MA</span></div>
<div class="abs lbl lv" style="left:1468px;top:425.2px;width:70px;height:20.4px;line-height:20.4px;background:#f23645;color:#fff;">1.34795</div>
<div class="abs lbl" style="left:1352px;top:651px;width:116px;height:21px;line-height:20.4px;background:#fff;color:#131722;border-radius:0;text-shadow:none">Regular Bearish</div>
<div class="abs lbl" style="left:1468px;top:651px;width:54px;height:22px;line-height:20.4px;background:#fff;color:#131722;border-radius:0;text-align:left;padding-left:9.5px;text-shadow:none">61.52</div>
<div class="abs lbl lt" style="left:1434px;top:673px;width:32.8px;height:20.8px;line-height:20.8px;background:#7e57c2;color:#fff;letter-spacing:-0.8px;"><span style="display:inline-block;transform:scaleX(0.82)">RSI</span></div>
<div class="abs lbl lv" style="left:1468px;top:673px;width:54px;height:20.8px;line-height:20.8px;background:#7e57c2;color:#fff;">57.90</div>
<div class="abs lbl lt" style="left:1366.7px;top:694.4px;width:100.1px;height:20.1px;line-height:20.1px;background:#ffeb3b;color:#131722;text-shadow:none;"><span style="display:inline-block;transform:scaleX(0.95)">RSI-based MA</span></div>
<div class="abs lbl lv" style="left:1468px;top:694.4px;width:54px;height:20.1px;line-height:20.1px;background:#ffeb3b;color:#131722;text-shadow:none;">53.22</div>
<div class="abs lbl" style="left:1356px;top:714.5px;width:112px;height:18px;line-height:18px;background:#fff;color:#131722;border-radius:0;text-shadow:none">Regular Bullish</div>
<div class="abs lbl" style="left:1468px;top:714.5px;width:54px;height:20.8px;line-height:20.4px;background:#fff;color:#131722;border-radius:0;text-align:left;padding-left:9.5px;text-shadow:none">44.16</div>
<div class="abs" style="left:1380px;top:750.6px;width:165px;height:13.4px;overflow:hidden">
 <div class="abs lbl lt" style="left:35.6px;top:-7.1px;width:51.2px;height:20.5px;background:#ff6d00">Signal</div>
 <div class="abs lbl lv" style="left:88px;top:-7.1px;width:70px;height:20.5px;background:#ff6d00">0.00114</div>
</div>
<div class="abs lbl lt" style="left:1387px;top:764px;width:79.8px;height:20.8px;line-height:20.8px;background:#26a69a;color:#fff;">Histogram</div>
<div class="abs lbl lv" style="left:1468px;top:764px;width:70px;height:20.8px;line-height:20.8px;background:#26a69a;color:#fff;">0.00010</div>

<div class="abs tl" style="left:89px">Aug</div>
<div class="abs tl" style="left:242px">Sep</div>
<div class="abs tl" style="left:381px">Oct</div>
<div class="abs tl" style="left:528px">Nov</div>
<div class="abs tl" style="left:675px">Dec</div>
<div class="abs tl" style="left:810px;font-weight:bold;color:#131722">2024</div>
<div class="abs tl" style="left:968px">Feb</div>
<div class="abs tl" style="left:1107px">Mar</div>
<div class="abs tl" style="left:1248px">Apr</div>
<div class="abs tl" style="left:1395px;z-index:5">May</div>

<svg class="abs" style="left:12.9px;top:855.9px" width="25" height="12" viewBox="0 0 25 12"><path d="M0 0h9v11.8H4.7V5.9H0z" fill="#131722"/><circle cx="14" cy="2.4" r="2.4" fill="#131722"/><path d="M18.5 0h5.9l-3.6 11.8h-5.9z" fill="#131722"/></svg>
<div class="abs" style="left:42.6px;top:853.9px;font-size:15px;letter-spacing:0.42px;line-height:18px;color:#1e222d">TradingView</div>

<div id="wm1" class="abs">海马财经</div>
<div id="wm2" class="abs">zzrt01.cn</div>
</body></html>
